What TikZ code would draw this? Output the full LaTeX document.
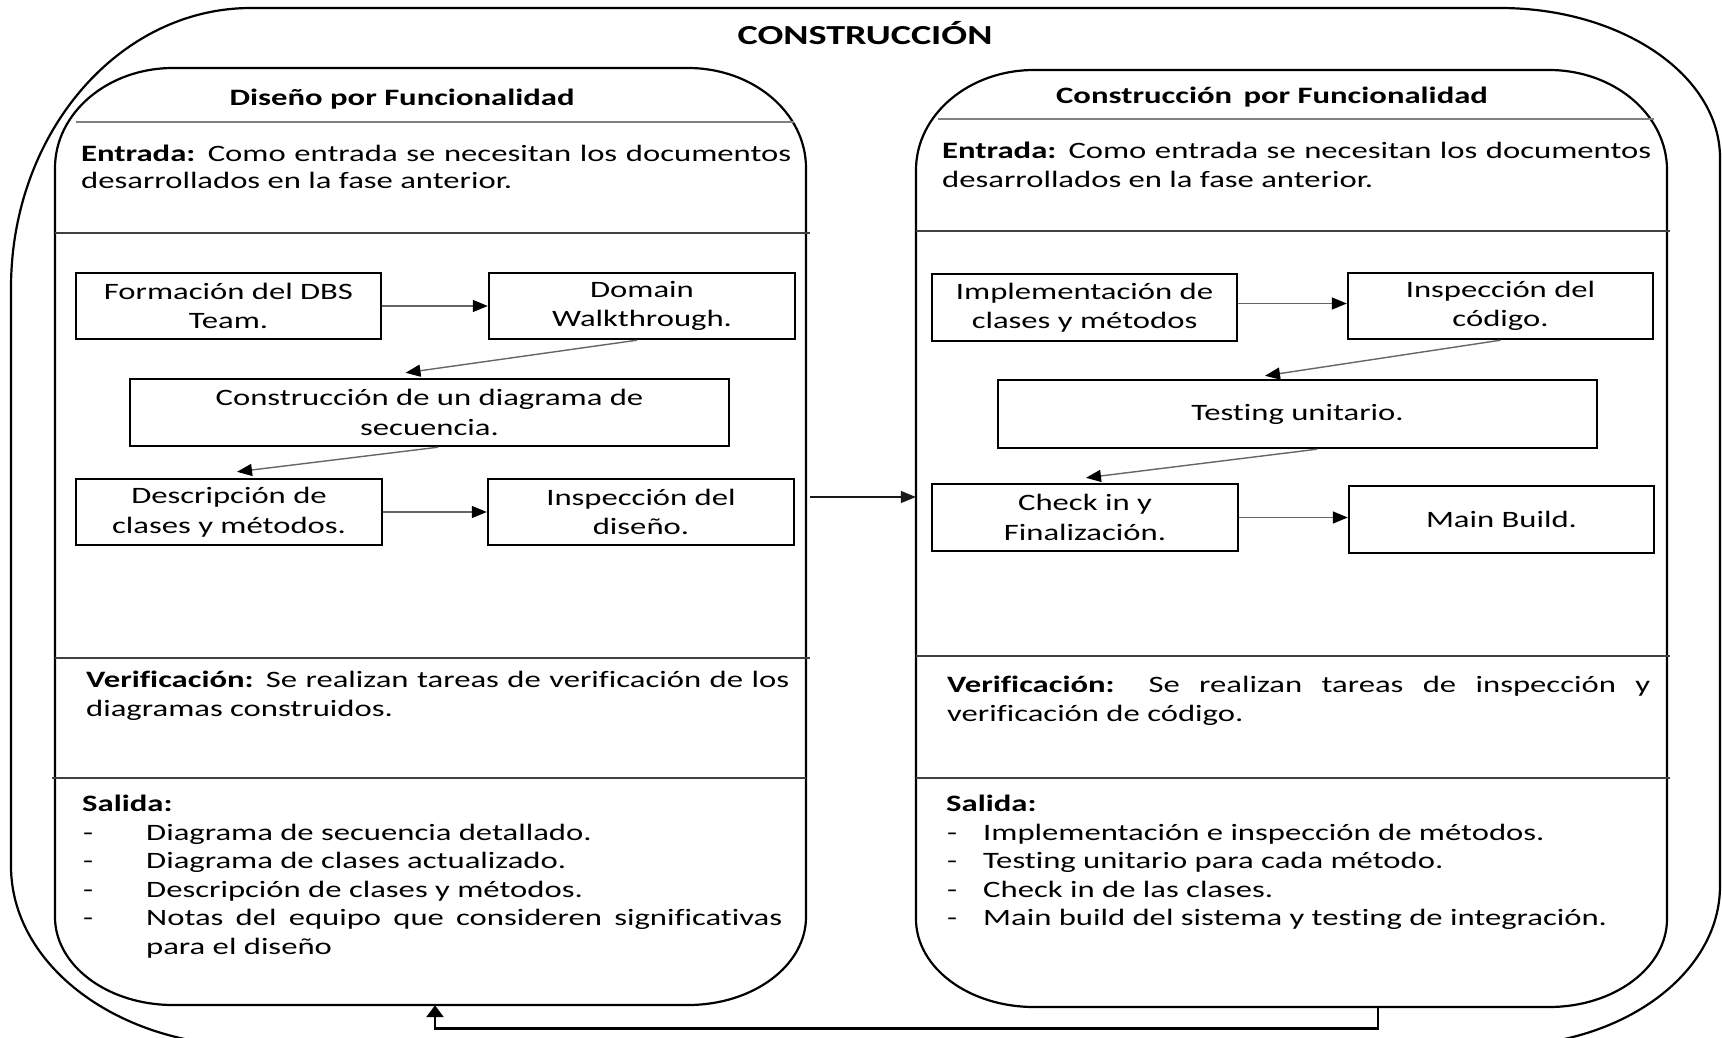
\documentclass[tikz,border=0pt]{standalone}
\usepackage{fontspec}
\setmainfont{Carlito}[FakeStretch=1.39,Ligatures=NoCommon]
\usetikzlibrary{arrows.meta,calc}
\begin{document}
\begin{tikzpicture}[x=1pt,y=-1pt,
  every node/.style={font=\fontsize{23.5pt}{29.5pt}\selectfont, inner sep=0pt},
  bodytxt/.style={anchor=base west},
  titletxt/.style={anchor=base, font=\fontsize{23.5pt}{29.5pt}\selectfont\bfseries},
  flowbox/.style={draw, line width=2.4pt, minimum width=#1, minimum height=66pt, align=center},
  panelarea/.style={minimum width=751pt, minimum height=937pt},
  outline/.style={line width=2.2pt, black},
  headline/.style={line width=2pt, black!50},
  sepline/.style={line width=1.5pt, black!75},
  flowarrow/.style={line width=1.4pt, black!60, -{Triangle[length=15pt,width=12pt,color=black]}},
  panelarrow/.style={line width=1.4pt, black!90, -{Triangle[length=15pt,width=12pt]}},
  fbarrow/.style={line width=2.6pt, black, -{Triangle[length=12pt,width=17pt]}}
]
\fill[white] (0,0) rectangle (1722,1038);
\useasboundingbox (0,0) rectangle (1722,1038);
\clip (0,0) rectangle (1722,1038);

% outer frame
\draw[outline] (251,8) -- (1500,8) arc[start angle=270,end angle=360,x radius=220,y radius=150]
  -- (1720,886) arc[start angle=0,end angle=90,x radius=220,y radius=160]
  -- (251,1046) arc[start angle=90,end angle=180,x radius=240,y radius=180]
  -- (11,288) arc[start angle=180,end angle=270,x radius=240,y radius=280] -- cycle;
\node[titletxt, font=\fontsize{27.5pt}{30pt}\selectfont\bfseries] (title) at (865,45) {CONSTRUCCIÓN};

% panels
\node[panelarea] (LP) at (430.5,536.5) {};
\node[panelarea] (RP) at (1291.5,538.5) {};
\draw[outline] (173,68) -- (688,68) arc[start angle=270,end angle=360,x radius=118,y radius=100]
  -- (806,917) arc[start angle=0,end angle=90,x radius=118,y radius=88]
  -- (173,1005) arc[start angle=90,end angle=180,x radius=118,y radius=88]
  -- (55,168) arc[start angle=180,end angle=270,x radius=118,y radius=100] -- cycle;
\draw[outline] (1034,70) -- (1549,70) arc[start angle=270,end angle=360,x radius=118,y radius=100]
  -- (1667,919) arc[start angle=0,end angle=90,x radius=118,y radius=88]
  -- (1034,1007) arc[start angle=90,end angle=180,x radius=118,y radius=88]
  -- (916,170) arc[start angle=180,end angle=270,x radius=118,y radius=100] -- cycle;

% separators
\draw[headline] (76,122) -- (794,122);
\draw[sepline] (55,233) -- (810,233);
\draw[sepline] (55,658) -- (810,658);
\draw[sepline] (52,778) -- (806,778);
\draw[headline] (938,119) -- (1654,119);
\draw[sepline] (916,231) -- (1670,231);
\draw[sepline] (916,656) -- (1670,656);
\draw[sepline] (916,778) -- (1670,778);

% headers
\node[titletxt] (lhead) at (402,106) {Diseño por Funcionalidad};
\node[titletxt] (rhead) at (1272,104) {Construcción\hspace{4pt} por Funcionalidad};

% entrada
\node[bodytxt] (lin1) at (81,161) {\makebox[710pt][s]{\textbf{Entrada:} Como entrada se necesitan los documentos}};
\node[bodytxt] (lin2) at (81,189) {desarrollados en la fase anterior.};
\node[bodytxt] (rin1) at (942,159) {\makebox[709pt][s]{\textbf{Entrada:} Como entrada se necesitan los documentos}};
\node[bodytxt] (rin2) at (942,187) {desarrollados en la fase anterior.};

% left flow
\node[flowbox=305pt] (fdbs) at (228.5,306) {Formación del DBS\\Team.};
\node[flowbox=306pt] (dom) at (642,306) {Domain\\Walkthrough.};
\node[flowbox=599pt, minimum height=67pt] (cds) at (429.5,412.5) {Construcción de un diagrama de\\secuencia.};
\node[flowbox=306pt] (dcm) at (229,512) {Descripción de\\clases y métodos.};
\node[flowbox=306pt] (idis) at (641,512) {Inspección del\\diseño.};
\draw[flowarrow] (fdbs.east) -- (dom.west);
\draw[flowarrow] ([xshift=-5pt]dom.south) -- ($(cds.north)+(-24,-5)$);
\draw[flowarrow] ([xshift=8.5pt]cds.south) -- ($(dcm.north)+(8,-6)$);
\draw[flowarrow] (dcm.east) -- (idis.west);

% right flow
\node[flowbox=305pt, minimum height=67pt] (impl) at (1084.5,307.5) {Implementación de\\clases y métodos};
\node[flowbox=305pt] (icod) at (1500.5,306) {Inspección del\\código.};
\node[flowbox=599pt, minimum height=68pt] (test) at (1297.5,414) {Testing unitario.};
\node[flowbox=306pt, minimum height=67pt] (chk) at (1085,517.5) {Check in y\\Finalización.};
\node[flowbox=305pt, minimum height=67pt] (mb) at (1501.5,519.5) {Main Build.};
\draw[flowarrow] ([yshift=4pt]impl.east) -- ([yshift=4pt]impl.east -| icod.west);
\draw[flowarrow] (icod.south) -- ($(test.north)+(-32.5,-3)$);
\draw[flowarrow] ([xshift=19.5pt]test.south) -- ($(chk.north)+(1,-5)$);
\draw[flowarrow] (chk.east) -- (chk.east -| mb.west);

% panel links
\coordinate (ma) at ([xshift=4pt,yshift=39.5pt]LP.east);
\draw[panelarrow] (ma) -- (ma -| RP.west);
\draw[fbarrow] ([xshift=86.5pt]RP.south) -- ++(0,21) -| ([xshift=4.5pt]LP.south);

% verificacion
\node[bodytxt] (lv1) at (86,687) {\makebox[703pt][s]{\textbf{Verificación:} Se realizan tareas de verificación de los}};
\node[bodytxt] (lv2) at (86,716) {diagramas construidos.};
\node[bodytxt] (rv1) at (947,692) {\makebox[703pt][s]{\textbf{Verificación:} Se realizan tareas de inspección y}};
\node[bodytxt] (rv2) at (947,721) {verificación de código.};

% salida
\node[bodytxt] (ls) at (82,811) {\textbf{Salida:}};
\foreach \yy [count=\i] in {840,868,897,925} {\node[bodytxt] (ldash\i) at (83,\yy) {-};}
\node[bodytxt] (li1) at (146,840) {Diagrama de secuencia detallado.};
\node[bodytxt] (li2) at (146,868) {Diagrama de clases actualizado.};
\node[bodytxt] (li3) at (146,897) {Descripción de clases y métodos.};
\node[bodytxt] (li4) at (146,925) {\makebox[636pt][s]{Notas del equipo que consideren significativas}};
\node[bodytxt] (li5) at (146,954) {para el diseño};

\node[bodytxt] (rs) at (946,811) {\textbf{Salida:}};
\foreach \yy [count=\i] in {840,868,897,925} {\node[bodytxt] (rdash\i) at (947,\yy) {-};}
\node[bodytxt] (ri1) at (983,840) {Implementación e inspección de métodos.};
\node[bodytxt] (ri2) at (983,868) {Testing unitario para cada método.};
\node[bodytxt] (ri3) at (983,897) {Check in de las clases.};
\node[bodytxt] (ri4) at (983,925) {Main build del sistema y testing de integración.};
\end{tikzpicture}
\end{document}
